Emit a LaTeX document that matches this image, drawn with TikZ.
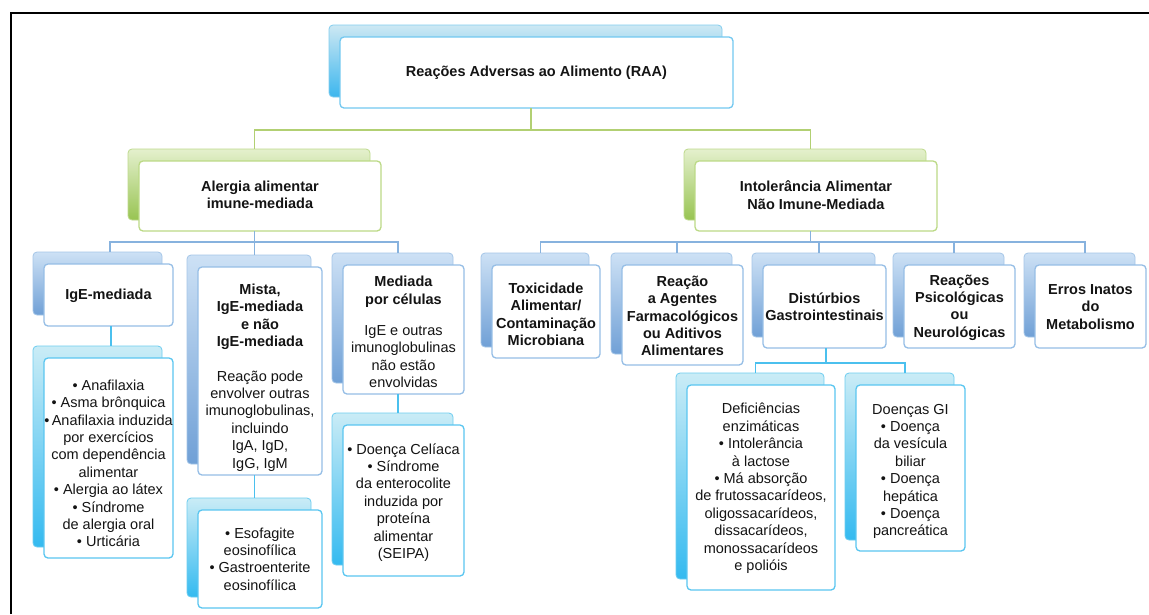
\documentclass[tikz,border=0pt]{standalone}
\usepackage{fontspec}
\setmainfont{Liberation Sans}
\usetikzlibrary{calc}
\definecolor{gbus}{RGB}{178,208,115}
\definecolor{bbus}{RGB}{135,178,222}
\definecolor{cbus}{RGB}{75,192,238}
\definecolor{txtc}{RGB}{20,20,20}
\tikzset{
  x=1pt, y=-1pt,
  txt/.style={align=center, font=\fontsize{14.5}{17.4}\selectfont, text=txtc, inner sep=0pt},
  frontbase/.style={fill=white, rounded corners=4pt, line width=1.3pt, inner sep=0pt},
  backA/.style={rounded corners=4pt, top color={rgb,255:red,205;green,232;blue,243}, bottom color={rgb,255:red,60;green,182;blue,238}, draw={rgb,255:red,130;green,205;blue,238}, line width=0.8pt},
  frontA/.style={frontbase, draw={rgb,255:red,115;green,200;blue,240}},
  backG/.style={rounded corners=4pt, top color={rgb,255:red,228;green,240;blue,205}, bottom color={rgb,255:red,152;green,196;blue,82}, draw={rgb,255:red,190;green,218;blue,140}, line width=0.8pt},
  frontG/.style={frontbase, draw={rgb,255:red,188;green,218;blue,135}},
  backB/.style={rounded corners=4pt, top color={rgb,255:red,205;green,225;blue,245}, bottom color={rgb,255:red,112;green,160;blue,214}, draw={rgb,255:red,165;green,198;blue,232}, line width=0.8pt},
  frontB/.style={frontbase, draw={rgb,255:red,150;green,190;blue,230}},
  backC/.style={rounded corners=4pt, top color={rgb,255:red,202;green,236;blue,246}, bottom color={rgb,255:red,52;green,186;blue,240}, draw={rgb,255:red,110;green,205;blue,240}, line width=0.8pt},
  frontC/.style={frontbase, draw={rgb,255:red,90;green,198;blue,240}},
  gconn/.style={draw=gbus, line width=1.8pt},
  bconn/.style={draw=bbus, line width=1.6pt},
  cconn/.style={draw=cbus, line width=1.6pt},
  frame/.style={draw=black, line width=2.2pt},
}
% name, cx, cy, w, h, kind, text dy, text
\newcommand\mkbox[8]{%
  \path[back#6] ({#2-#4/2-11},{#3-#5/2-12}) rectangle ({#2+#4/2-11},{#3+#5/2-11});
  \node[front#6, minimum width=#4, minimum height=#5] (#1) at (#2,#3) {};
  \node[txt] (#1-t) at (#2,{#3+#7}) {#8};
  \coordinate (#1-top) at ({#2-5.5},{#3-#5/2-12});
  \coordinate (#1-bot) at ({#2-5.5},{#3+#5/2});
}
\begin{document}
\begin{tikzpicture}
\useasboundingbox[fill=white] (0,0) rectangle (1149,614);
\draw[frame] (11,614) -- (11,13) -- (1149,13);

\mkbox{raa}{536.5}{72.5}{393}{71}{A}{0}{\textbf{Reações Adversas ao Alimento (RAA)}}
\mkbox{alerg}{260}{196}{242}{70}{G}{-1}{\textbf{Alergia alimentar}\\\textbf{imune-mediada}}
\mkbox{intol}{816}{196}{242}{70}{G}{-1}{\textbf{Intolerância Alimentar}\\\textbf{Não Imune-Mediada}}

\mkbox{ige}{108.5}{295}{129}{62}{B}{1}{\textbf{IgE-mediada}}
\mkbox{igelist}{108.5}{458}{129}{200}{C}{5.5}{• Anafilaxia\\• Asma brônquica\\•\,Anafilaxia induzida\\por exercícios\\com dependência\\alimentar\\• Alergia ao látex\\• Síndrome\\de alergia oral\\• Urticária}
\mkbox{mista}{260}{371}{124}{208}{B}{6.5}{\textbf{Mista,}\\\textbf{IgE-mediada}\\\textbf{e não}\\\textbf{IgE-mediada}\\[17pt]Reação pode\\envolver outras\\imunoglobulinas,\\incluindo\\IgA, IgD,\\IgG, IgM}
\mkbox{eos}{260}{559}{124}{98}{C}{0}{• Esofagite\\eosinofílica\\• Gastroenterite\\eosinofílica}
\mkbox{medi}{403.5}{329.5}{121}{129}{B}{2.5}{\textbf{Mediada}\\\textbf{por células}\\[13.6pt]IgE e outras\\imunoglobulinas\\não estão\\envolvidas}
\mkbox{medlist}{403.5}{500.5}{121}{151}{C}{2}{• Doença Celíaca\\• Síndrome\\da enterocolite\\induzida por\\proteína\\alimentar\\(SEIPA)}

\mkbox{tox}{546}{311.5}{108}{93}{B}{3}{\textbf{Toxicidade}\\\textbf{Alimentar/}\\\textbf{Contaminação}\\\textbf{Microbiana}}
\mkbox{farm}{682.5}{315}{121}{100}{B}{1}{\textbf{Reação}\\\textbf{a Agentes}\\\textbf{Farmacológicos}\\\textbf{ou Aditivos}\\\textbf{Alimentares}}
\mkbox{dist}{824.5}{306.5}{123}{83}{B}{0}{\textbf{Distúrbios}\\\textbf{Gastrointestinais}}
\mkbox{psic}{959.5}{306.5}{111}{83}{B}{1}{\textbf{Reações}\\\textbf{Psicológicas}\\\textbf{ou}\\\textbf{Neurológicas}}
\mkbox{erros}{1090.5}{306.5}{111}{83}{B}{0.5}{\textbf{Erros Inatos}\\\textbf{do}\\\textbf{Metabolismo}}

\mkbox{defic}{761}{487.5}{148}{205}{C}{1}{Deficiências\\enzimáticas\\• Intolerância\\à lactose\\• Má absorção\\de frutossacarídeos,\\oligossacarídeos,\\dissacarídeos,\\monossacarídeos\\e polióis}
\mkbox{gi}{910.5}{468}{109}{166}{C}{3.5}{Doenças GI\\• Doença\\da vesícula\\biliar\\• Doença\\hepática\\• Doença\\pancreática}

% connector anchor adjustments
\coordinate (ige-top) at (110,252);
\coordinate (ige-bot) at (111,326);
\coordinate (igelist-top) at (111,346);
\coordinate (dist-bot) at (826,348);

% connectors
\coordinate (gbusy) at (0,130);
\coordinate (bbusy) at (0,242);
\coordinate (dbusy) at (0,363);
\draw[gconn] (raa-bot) -- (raa-bot |- gbusy) -| (alerg-top);
\draw[gconn] (raa-bot |- gbusy) -| (intol-top);

\draw[bconn] (alerg-bot) -- (alerg-bot |- bbusy) -| (ige-top);
\draw[bconn] (alerg-bot |- bbusy) -| (mista-top);
\draw[bconn] (alerg-bot |- bbusy) -| (medi-top);

\draw[bconn] (intol-bot) -- (intol-bot |- bbusy) -| (tox-top);
\draw[bconn] (intol-bot |- bbusy) -| (farm-top);
\draw[bconn] (intol-bot |- bbusy) -| (dist-top);
\draw[bconn] (intol-bot |- bbusy) -| (psic-top);
\draw[bconn] (intol-bot |- bbusy) -| (erros-top);

\draw[cconn] (ige-bot) -- (igelist-top);
\draw[cconn] (mista-bot) -- (eos-top);
\draw[cconn] (medi-bot) -- (medlist-top);

\draw[cconn] (dist-bot) -- (dist-bot |- dbusy) -| (defic-top);
\draw[cconn] (dist-bot |- dbusy) -| (gi-top);
\end{tikzpicture}
\end{document}
